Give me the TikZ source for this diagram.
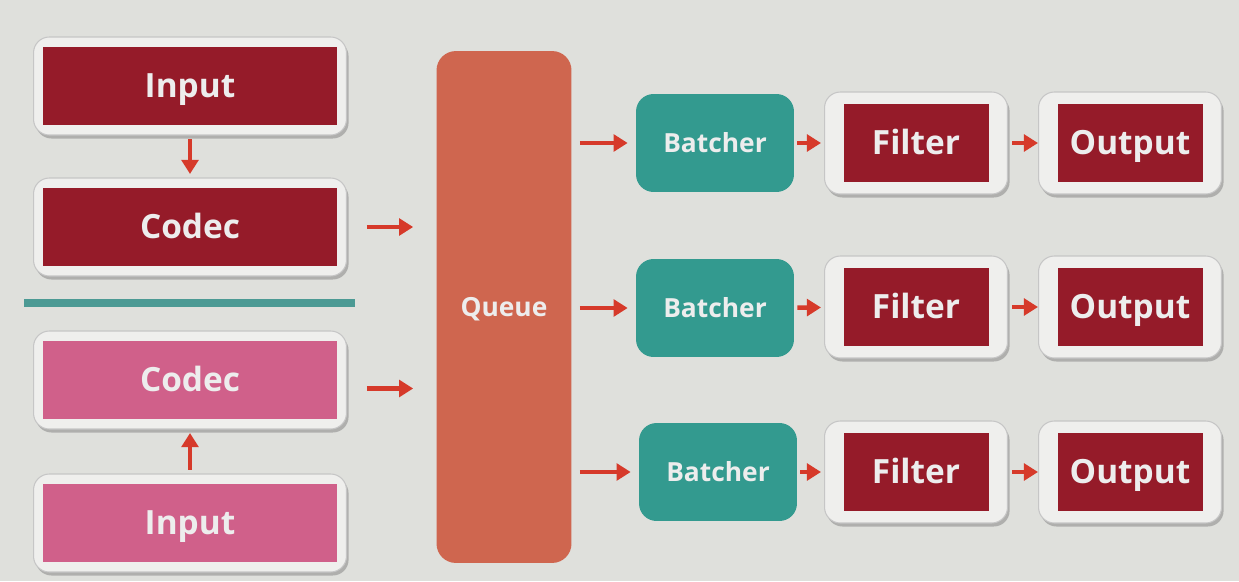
\documentclass[tikz,border=0pt]{standalone}
\usepackage{fontspec}
\setmainfont{Open Sans}
\usepackage{xcolor}
\usetikzlibrary{calc,arrows.meta,shadows}

\definecolor{bggray}{HTML}{DFE0DC}
\definecolor{boxwhite}{HTML}{EFEFED}
\definecolor{darkred}{HTML}{951B29}
\definecolor{pinkred}{HTML}{D0608A}
\definecolor{tealbox}{HTML}{339A8F}
\definecolor{queuecol}{HTML}{CF664F}
\definecolor{arrowred}{HTML}{D63A2A}
\definecolor{lighttext}{HTML}{EDEDED}
\definecolor{tealline}{HTML}{4C9A94}

\begin{document}
\begin{tikzpicture}[x=0.02cm, y=-0.02cm,
    outbox/.style={rectangle, rounded corners=9pt, fill=boxwhite, draw=gray!45, line width=0.6pt,
        drop shadow={shadow xshift=1.2pt, shadow yshift=-2pt, opacity=0.5}},
    bigbox/.style={outbox, minimum width=6.26cm, minimum height=1.96cm},
    smallbox/.style={outbox, minimum width=3.66cm, minimum height=2.04cm},
    redbox/.style={rectangle, fill=darkred, text=lighttext, text height=13.6pt, text depth=0pt,
        font=\bfseries\fontsize{19}{22}\selectfont},
    wideinner/.style={redbox, minimum width=5.88cm, minimum height=1.56cm},
    narrowinner/.style={redbox, minimum width=2.9cm, minimum height=1.56cm},
    batchnode/.style={rectangle, rounded corners=10pt, fill=tealbox, text=lighttext,
        text height=10.7pt, text depth=0pt,
        minimum width=3.16cm, minimum height=1.96cm, font=\bfseries\fontsize{15}{18}\selectfont}]
        \fill[bggray] (0,0) rectangle (1239,581);

        \node[bigbox] (In1) at (190,86) {};
        \node[wideinner] (In1t) at (In1) {Input};
        \node[bigbox] (Co1) at (190,227) {};
        \node[wideinner] (Co1t) at (Co1) {Codec};
        \node[bigbox] (Co2) at (190,380) {};
        \node[wideinner, fill=pinkred] (Co2t) at (Co2) {Codec};
        \node[bigbox] (In2) at (190,523) {};
        \node[wideinner, fill=pinkred] (In2t) at (In2) {Input};
        \draw[tealline, line width=4pt] (24,303) -- (355,303);

        \node[rectangle, rounded corners=11pt, fill=queuecol, text=lighttext, minimum width=2.7cm,
            text height=10.7pt, text depth=0pt,
            minimum height=10.24cm, font=\bfseries\fontsize{15}{18}\selectfont] (Q) at (504,307) {Queue};

        \node[batchnode] (B1) at (715,143) {Batcher};
        \node[smallbox] (F1) at (916,143) {};
        \node[narrowinner] (F1t) at (F1) {Filter};
        \node[smallbox] (O1) at (1130,143) {};
        \node[narrowinner] (O1t) at (O1) {Output};

        \node[batchnode] (B2) at (715,308) {Batcher};
        \node[smallbox] (F2) at (916,307) {};
        \node[narrowinner] (F2t) at (F2) {Filter};
        \node[smallbox] (O2) at (1130,307) {};
        \node[narrowinner] (O2t) at (O2) {Output};

        \node[batchnode] (B3) at (718,472) {Batcher};
        \node[smallbox] (F3) at (916,472) {};
        \node[narrowinner] (F3t) at (F3) {Filter};
        \node[smallbox] (O3) at (1130,472) {};
        \node[narrowinner] (O3t) at (O3) {Output};

        \tikzset{flow/.style={arrowred, line width=2.6pt, -{Triangle[length=8pt, width=9.5pt]}}}

        \draw[flow, shorten <=2pt, shorten >=2pt] (In1) -- (Co1);
        \draw[flow, shorten <=2pt, shorten >=2pt] (In2) -- (Co2);
        \draw[flow, shorten <=0.4cm, shorten >=0.46cm] (Co1.east) -- (Co1.east -| Q.west);
        \draw[flow, shorten <=0.4cm, shorten >=0.46cm] ([yshift=-0.17cm]Co2.east) -- ([yshift=-0.17cm]Co2.east -| Q.west);
        \foreach \r in {1,2,3} {
            \draw[flow, shorten <=0.16cm, shorten >=0.16cm] (Q.east |- B\r.west) -- (B\r.west);
            \draw[flow, shorten <=0.06cm, shorten >=0.06cm] (B\r) -- (F\r);
            \draw[flow, shorten <=0.08cm] (F\r) -- (O\r);
        }

    \end{tikzpicture}
\end{document}
